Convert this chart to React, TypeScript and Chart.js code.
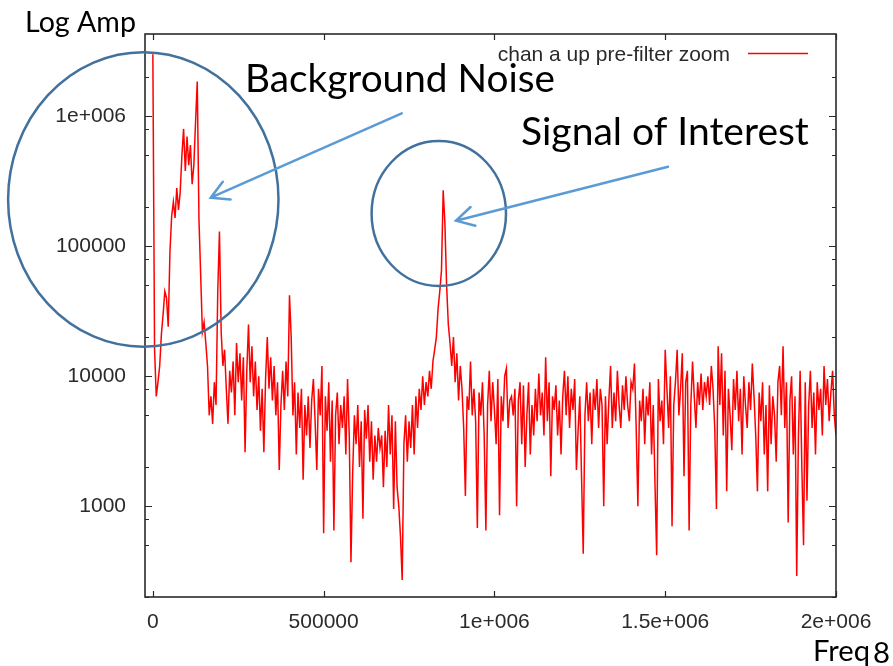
import React, { useEffect, useRef } from "react";
import { Chart, registerables } from "chart.js";

Chart.register(...registerables);

// ---- data ----
const FREQ_START = 0;
const FREQ_STEP = 5000;
const seriesLabel = "chan a up pre-filter zoom";
const amplitude: number[] = [
  3000000, 16000, 7000, 9000, 12000, 21000, 30000, 45000, 40000, 24000,
  90000, 170000, 220000, 165000, 280000, 190000, 260000, 500000, 800000, 380000,
  700000, 420000, 600000, 300000, 420000, 900000, 1850000, 160000, 60000, 22000,
  26000, 18000, 12000, 5000, 7000, 4300, 9000, 6000, 45000, 130000,
  22000, 12000, 16000, 8000, 4300, 11000, 7500, 13000, 5000, 18000,
  9000, 15000, 6500, 14000, 2600, 11000, 25000, 9000, 17000, 7000,
  13000, 5500, 10000, 3800, 8000, 2600, 9500, 20000, 8000, 14000,
  6500, 12000, 5000, 9000, 1900, 6000, 11000, 5500, 13000, 7000,
  42000, 20000, 5000, 9000, 2500, 7500, 4000, 8000, 1600, 6000,
  3500, 7000, 2800, 6500, 9500, 4500, 1900, 8000, 5000, 12000,
  620, 7000, 3800, 9000, 2200, 6500, 650, 5000, 7500, 3000,
  6000, 4000, 7000, 2500, 9500, 3500, 370, 1800, 5000, 3000,
  6000, 2000, 4500, 800, 5500, 3300, 6000, 2200, 4500, 1600,
  3500, 2200, 4000, 2800, 3500, 1400, 3800, 2000, 6000, 2500,
  5000, 950, 4500, 1400, 1000, 580, 270, 3000, 5000, 2200,
  4500, 2800, 6000, 2500, 7000, 4000, 8000, 5500, 10000, 6000,
  9000, 7000, 11000, 8000, 13000, 16000, 20000, 33000, 45000, 65000,
  270000, 150000, 50000, 25000, 18000, 12000, 20000, 9000, 15000, 6500,
  12000, 8000, 4000, 1200, 7000, 5500, 13000, 5000, 8000, 4500,
  680, 7500, 5000, 9000, 3500, 650, 6000, 11000, 4500, 9000,
  5500, 3000, 9500, 850, 7000, 4500, 10000, 11500, 4000, 6500,
  7000, 5000, 8000, 1000, 6500, 9000, 3000, 8500, 2000, 5000,
  9000, 2500, 6000, 3500, 8000, 4500, 10500, 5000, 7500, 3500,
  14000, 4500, 9000, 1700, 7000, 5500, 8500, 3500, 6500, 2500,
  7000, 11000, 5000, 10000, 4000, 8000, 5500, 9500, 1900, 3800,
  7000, 1700, 430, 5000, 9000, 4500, 7500, 3000, 8000, 5500,
  9500, 4000, 8000, 6000, 1000, 7000, 3000, 6500, 12000, 4000,
  7500, 4500, 11000, 6000, 4000, 8500, 5500, 10000, 6000, 4500,
  9000, 8000, 12500, 4000, 1000, 6500, 4500, 8000, 3000, 7000,
  5000, 9000, 2500, 6000, 1500, 420, 9500, 4500, 6500, 3000,
  16000, 8000, 4000, 10000, 700, 6000, 9000, 16000, 5000, 8000,
  15000, 1700, 9000, 11000, 650, 6000, 13000, 7000, 4000, 9000,
  6000, 10500, 5500, 9000, 7000, 10000, 6000, 12000, 8000, 4000,
  950, 17000, 6000, 15000, 3500, 11000, 1300, 8000, 5000, 2700,
  9500, 5500, 11000, 4500, 8000, 2500, 10000, 6000, 4000, 9000,
  5500, 12500, 7000, 3500, 1300, 7500, 4500, 9000, 2500, 6000,
  1300, 8500, 3000, 7000, 5000, 2200, 9000, 12000, 5000, 17000,
  4000, 9000, 750, 6500, 10000, 2500, 7000, 290, 3500, 11000,
  2000, 500, 9000, 1100, 6000, 11000, 4000, 7500, 2500, 9000,
  5500, 8000, 3500, 12000, 6000, 9500, 4500, 7500, 11000, 5000,
  3500,
];

const xTickValues = [0, 500000, 1000000, 1500000, 2000000];
const xTickLabels = ["0", "500000", "1e+006", "1.5e+006", "2e+006"];
const yMajorValues = [1000, 10000, 100000, 1000000];
const yMajorLabels = ["1000", "10000", "100000", "1e+006"];
const yMinorValues = [200, 500, 800, 2000, 5000, 8000, 20000, 50000, 80000, 200000, 500000, 800000, 2000000];
const X_MIN = -23000;
const X_MAX = 2000000;
const Y_MIN = 200;
const Y_MAX = 4300000;

const yAxisTitle = "Log Amp";
const xAxisTitle = "Freq";
const pageNumber = "8";
const noteNoise = "Background Noise";
const noteSignal = "Signal of Interest";

const TICK_FONT = "'Liberation Sans', Arial, sans-serif";
const NOTE_FONT = "Lato, 'Open Sans', sans-serif";

function fitText(ctx: CanvasRenderingContext2D, text: string, x: number, baseline: number, width: number, family: string) {
  ctx.font = `100px ${family}`;
  const w = ctx.measureText(text).width;
  const size = (100 * width) / w;
  ctx.font = `${size}px ${family}`;
  ctx.textAlign = "left";
  ctx.textBaseline = "alphabetic";
  ctx.fillText(text, x, baseline);
}

function arrow(ctx: CanvasRenderingContext2D, x0: number, y0: number, x1: number, y1: number) {
  ctx.beginPath();
  ctx.moveTo(x0, y0);
  ctx.lineTo(x1, y1);
  const ang = Math.atan2(y0 - y1, x0 - x1);
  const len = 20;
  const spread = (29 * Math.PI) / 180;
  ctx.moveTo(x1 + len * Math.cos(ang + spread), y1 + len * Math.sin(ang + spread));
  ctx.lineTo(x1, y1);
  ctx.lineTo(x1 + len * Math.cos(ang - spread), y1 + len * Math.sin(ang - spread));
  ctx.stroke();
}

const overlayPlugin = {
  id: "overlay",
  afterDraw(chart: any) {
    const { ctx, chartArea: a, scales } = chart;
    const xs = scales.x;
    const ys = scales.y;
    ctx.save();
    // frame
    ctx.strokeStyle = "#2a2a2a";
    ctx.lineWidth = 1.6;
    ctx.strokeRect(a.left, a.top, a.right - a.left, a.bottom - a.top);
    // inward ticks
    ctx.lineWidth = 1.2;
    ctx.beginPath();
    for (const v of xTickValues) {
      const px = Math.round(xs.getPixelForValue(v)) + 0.5;
      ctx.moveTo(px, a.bottom);
      ctx.lineTo(px, a.bottom - 6);
      ctx.moveTo(px, a.top);
      ctx.lineTo(px, a.top + 6);
    }
    const yTick = (v: number, len: number) => {
      const py = Math.round(ys.getPixelForValue(v)) + 0.5;
      ctx.moveTo(a.left, py);
      ctx.lineTo(a.left + len, py);
      ctx.moveTo(a.right, py);
      ctx.lineTo(a.right - len, py);
    };
    yMajorValues.forEach((v) => yTick(v, 7));
    yMinorValues.forEach((v) => yTick(v, 4));
    ctx.stroke();

    // legend (inside plot, gnuplot style)
    ctx.font = `21px ${TICK_FONT}`;
    ctx.fillStyle = "#2a2a2a";
    ctx.textAlign = "right";
    ctx.textBaseline = "alphabetic";
    ctx.fillText(seriesLabel, 730, 61);
    ctx.strokeStyle = "rgb(255,0,0)";
    ctx.lineWidth = 1.5;
    ctx.beginPath();
    ctx.moveTo(748, 53.5);
    ctx.lineTo(808, 53.5);
    ctx.stroke();

    // ellipses
    ctx.strokeStyle = "#41719C";
    ctx.lineWidth = 2.5;
    ctx.beginPath();
    ctx.ellipse(143.3, 199.5, 135.2, 147.3, 0, 0, Math.PI * 2);
    ctx.stroke();
    ctx.beginPath();
    ctx.ellipse(438.8, 213.5, 67.2, 72.5, 0, 0, Math.PI * 2);
    ctx.stroke();

    // arrows
    ctx.strokeStyle = "#5B9BD5";
    ctx.lineWidth = 2.5;
    ctx.lineCap = "round";
    arrow(ctx, 401.7, 113.3, 210.7, 197.7);
    arrow(ctx, 668, 166.7, 456, 220.7);

    // annotation text
    ctx.fillStyle = "#000";
    fitText(ctx, yAxisTitle, 25, 32, 111, NOTE_FONT);
    fitText(ctx, noteNoise, 245, 92, 310, NOTE_FONT);
    fitText(ctx, noteSignal, 521, 145, 288, NOTE_FONT);
    fitText(ctx, xAxisTitle, 813, 661, 57, NOTE_FONT);
    fitText(ctx, pageNumber, 873, 663, 17, NOTE_FONT);
    ctx.restore();
  },
};

export default function App() {
  const ref = useRef<HTMLCanvasElement>(null);
  useEffect(() => {
    document.body.style.margin = "0";
    const canvas = ref.current!;
    const points = amplitude.map((v, i) => ({ x: FREQ_START + i * FREQ_STEP, y: v }));
    const chart = new Chart(canvas, {
      type: "line",
      data: {
        datasets: [
          {
            label: seriesLabel,
            data: points,
            borderColor: "rgb(255,0,0)",
            borderWidth: 1.5,
            pointRadius: 0,
            tension: 0,
            fill: false,
          },
        ],
      },
      options: {
        animation: false,
        responsive: false,
        devicePixelRatio: 1,
        layout: { padding: { top: 34, right: 57, left: 0, bottom: 0 } },
        plugins: { legend: { display: false }, tooltip: { enabled: false } },
        scales: {
          x: {
            type: "linear",
            min: X_MIN,
            max: X_MAX,
            grid: { display: false, drawTicks: false },
            border: { display: false },
            afterBuildTicks: (s: any) => {
              s.ticks = xTickValues.map((v) => ({ value: v }));
            },
            afterFit: (s: any) => {
              s.height = 69;
            },
            ticks: {
              autoSkip: false,
              maxRotation: 0,
              padding: 13,
              color: "#2a2a2a",
              font: { family: TICK_FONT, size: 21 },
              callback: (v: any) => {
                const k = xTickValues.indexOf(Number(v));
                return k >= 0 ? xTickLabels[k] : "";
              },
            },
          },
          y: {
            type: "logarithmic",
            min: Y_MIN,
            max: Y_MAX,
            grid: { display: false, drawTicks: false },
            border: { display: false },
            afterBuildTicks: (s: any) => {
              s.ticks = [...yMinorValues, ...yMajorValues].sort((p, q) => p - q).map((v) => ({ value: v }));
            },
            afterFit: (s: any) => {
              s.width = 145;
            },
            ticks: {
              autoSkip: false,
              padding: 19,
              color: "#2a2a2a",
              font: { family: TICK_FONT, size: 21 },
              callback: (v: any) => {
                const k = yMajorValues.indexOf(Number(v));
                return k >= 0 ? yMajorLabels[k] : "";
              },
            },
          },
        },
      },
      plugins: [overlayPlugin],
    } as any);
    return () => chart.destroy();
  }, []);
  return (
    <div style={{ position: "fixed", left: 0, top: 0, width: 893, height: 666, background: "#fff" }}>
      <canvas ref={ref} width={893} height={666} style={{ width: 893, height: 666, display: "block" }} />
    </div>
  );
}
